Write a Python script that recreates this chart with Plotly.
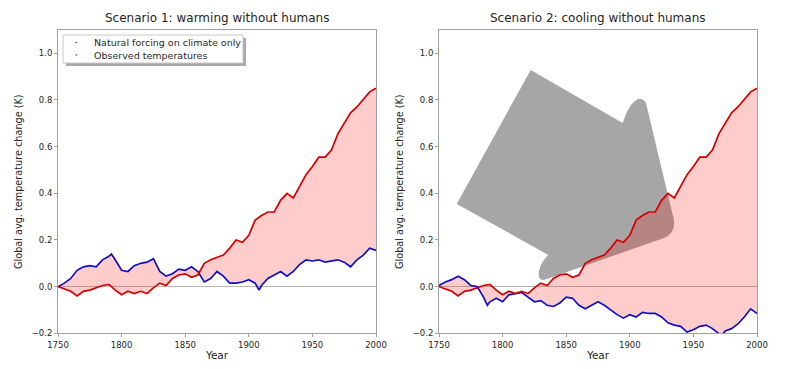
import plotly.graph_objects as go
from plotly.subplots import make_subplots

# ---------------- data ----------------
obs_years = [1750, 1755, 1760, 1765, 1770, 1775, 1780, 1785, 1790, 1795,
             1800, 1805, 1810, 1815, 1820, 1825, 1830, 1835, 1840, 1845,
             1850, 1855, 1860, 1865, 1870, 1875, 1880, 1885, 1890, 1895,
             1900, 1905, 1910, 1915, 1920, 1925, 1930, 1935, 1940, 1945,
             1950, 1955, 1960, 1965, 1970, 1975, 1980, 1985, 1990, 1995, 2000]
observed = [0.00, -0.01, -0.02, -0.04, -0.02, -0.015, -0.005, 0.005, 0.01, -0.015,
            -0.035, -0.02, -0.03, -0.02, -0.03, -0.005, 0.015, 0.005, 0.035, 0.05,
            0.055, 0.04, 0.05, 0.10, 0.115, 0.125, 0.135, 0.165, 0.20, 0.19,
            0.22, 0.285, 0.305, 0.32, 0.32, 0.37, 0.40, 0.38, 0.43, 0.48,
            0.515, 0.555, 0.555, 0.585, 0.655, 0.70, 0.745, 0.77, 0.805, 0.835, 0.85]

nat1_years = [1750, 1755, 1760, 1765, 1770, 1775, 1780, 1785, 1790, 1792, 1795,
              1800, 1805, 1810, 1815, 1820, 1825, 1830, 1835, 1840, 1845,
              1850, 1855, 1860, 1865, 1870, 1875, 1880, 1885, 1890, 1895,
              1900, 1905, 1908, 1910, 1915, 1920, 1925, 1930, 1935, 1940, 1945,
              1950, 1955, 1960, 1965, 1970, 1975, 1980, 1985, 1990, 1995, 2000]
natural_warming = [0.00, 0.015, 0.035, 0.07, 0.085, 0.09, 0.085, 0.115, 0.13, 0.14, 0.115,
                   0.07, 0.065, 0.09, 0.10, 0.105, 0.12, 0.065, 0.045, 0.055, 0.075,
                   0.07, 0.085, 0.065, 0.02, 0.035, 0.065, 0.045, 0.015, 0.015, 0.02,
                   0.03, 0.015, -0.015, 0.005, 0.035, 0.05, 0.065, 0.045, 0.065, 0.095, 0.115,
                   0.11, 0.115, 0.105, 0.11, 0.115, 0.105, 0.085, 0.115, 0.135, 0.165, 0.155]

nat2_years = [1750, 1755, 1760, 1765, 1770, 1775, 1780, 1785, 1788, 1790, 1795,
              1800, 1805, 1810, 1815, 1820, 1825, 1830, 1835, 1840, 1845,
              1850, 1855, 1860, 1865, 1870, 1875, 1880, 1885, 1890, 1895,
              1900, 1905, 1910, 1915, 1920, 1925, 1930, 1935, 1940, 1945,
              1950, 1955, 1960, 1965, 1970, 1972, 1975, 1980, 1985, 1990, 1995, 2000]
natural_cooling = [0.005, 0.02, 0.03, 0.045, 0.03, 0.005, 0.0, -0.045, -0.08, -0.065, -0.05,
                   -0.065, -0.035, -0.03, -0.025, -0.045, -0.065, -0.06, -0.08, -0.085, -0.07,
                   -0.045, -0.05, -0.08, -0.095, -0.08, -0.065, -0.08, -0.10, -0.12, -0.135,
                   -0.12, -0.13, -0.11, -0.115, -0.115, -0.13, -0.155, -0.165, -0.17, -0.195,
                   -0.185, -0.17, -0.165, -0.18, -0.20, -0.21, -0.19, -0.18, -0.16, -0.13, -0.095, -0.115]

titles = ["Scenario 1: warming without humans", "Scenario 2: cooling without humans"]
legend_names = ["Natural forcing on climate only", "Observed temperatures"]
x_ticks = [1750, 1800, 1850, 1900, 1950, 2000]
y_ticks = [-0.2, 0.0, 0.2, 0.4, 0.6, 0.8, 1.0]
y_tick_text = ["\u22120.2", "0.0", "0.2", "0.4", "0.6", "0.8", "1.0"]

# ---------------- style ----------------
RED = "#d40000"
BLUE = "#1010c0"
FILL = "rgba(255,0,0,0.2)"
FONT = "DejaVu Sans"
TXT = "#262626"
SPINE = "#a0a0a0"
OFF = 8                      # page body margin
W, H = 793 - 2 * OFF, 369 - 2 * OFF


def pxx(v):
    return (v - OFF) / W


def pxy(v):
    return 1 - (v - OFF) / H


fig = make_subplots(rows=1, cols=2)

panels = [(nat1_years, natural_warming), (nat2_years, natural_cooling)]
for i, (ny, nv) in enumerate(panels, start=1):
    fig.add_trace(go.Scatter(x=ny, y=nv, mode="lines", name=legend_names[0],
                             line=dict(color=BLUE, width=1.7),
                             showlegend=False, hoverinfo="skip"), row=1, col=i)
    fig.add_trace(go.Scatter(x=obs_years, y=observed, mode="lines", name=legend_names[1],
                             line=dict(color=RED, width=1.7),
                             fill="tonexty", fillcolor=FILL, showlegend=False, hoverinfo="skip"),
                  row=1, col=i)

left_dom = [pxx(58), pxx(376)]
right_dom = [pxx(439), pxx(757)]
y_dom = [pxy(333.3), pxy(30)]

axis_common = dict(showline=True, mirror=True, linecolor=SPINE, linewidth=1,
                   ticks="outside", ticklen=3, tickcolor=SPINE, showgrid=False,
                   automargin=False,
                   tickfont=dict(family=FONT, size=8.5, color=TXT))
for i, dom in enumerate([left_dom, right_dom], start=1):
    xa = "xaxis" if i == 1 else "xaxis2"
    ya = "yaxis" if i == 1 else "yaxis2"
    fig.layout[xa].update(domain=dom, range=[1750, 2000], tickvals=x_ticks,
                          title=dict(text="Year", font=dict(family=FONT, size=10.5, color=TXT),
                                     standoff=4),
                          zeroline=False, **axis_common)
    fig.layout[ya].update(domain=y_dom, range=[-0.2, 1.1], tickvals=y_ticks, ticktext=y_tick_text,
                          title=dict(text="Global avg. temperature change (K)",
                                     font=dict(family=FONT, size=9.7, color=TXT), standoff=7),
                          zeroline=True, zerolinecolor="#b8b8b8", zerolinewidth=1,
                          **axis_common)

# titles
for dom, t in zip([left_dom, right_dom], titles):
    fig.add_annotation(text=t, x=(dom[0] + dom[1]) / 2, y=pxy(18), xref="paper", yref="paper",
                       showarrow=False, xanchor="center", yanchor="middle",
                       font=dict(family=FONT, size=12, color=TXT))


# big grey arrow on the second panel (decoration), defined in screen pixels, mapped to axis units
def px2data(px, py):
    year = 1750 + (px - 439) * 250 / (757 - 439)
    t = (286.7 - py) / 233.3
    return f"{year:.3f},{t:.4f}"


arrow_px = [
    ("M", [(456.7, 204)]),
    ("L", [(530.7, 70)]),
    ("L", [(622.7, 123)]),
    ("Q", [(628, 106), (635, 101)]),
    ("Q", [(641, 96), (646, 103)]),
    ("L", [(672, 212)]),
    ("Q", [(679, 232), (664, 238)]),
    ("L", [(547, 279)]),
    ("Q", [(537, 283), (539, 271)]),
    ("Q", [(541, 262), (548.3, 255)]),
]
path = " ".join(cmd + " " + " ".join(px2data(*p) for p in pts) for cmd, pts in arrow_px) + " Z"
fig.add_shape(type="path", path=path, xref="x2", yref="y2", layer="below",
              fillcolor="#a6a6a6", line=dict(width=0))

# legend box (matplotlib style, with shadow) drawn with shapes + text
lx0, ly0, lx1, ly1 = 63, 35, 243, 63
fig.add_shape(type="rect", xref="paper", yref="paper",
              x0=pxx(lx0 + 3), x1=pxx(lx1 + 3), y0=pxy(ly1 + 3), y1=pxy(ly0 + 3),
              fillcolor="rgba(110,110,110,0.6)", line=dict(width=0))
fig.add_shape(type="rect", xref="paper", yref="paper",
              x0=pxx(lx0), x1=pxx(lx1), y0=pxy(ly1), y1=pxy(ly0),
              fillcolor="white", line=dict(color="#c8c8c8", width=1))
for k, (name, col) in enumerate(zip(legend_names, [BLUE, RED])):
    yy = 42.5 + 12.5 * k
    fig.add_shape(type="circle", xref="paper", yref="paper",
                  x0=pxx(75.5), x1=pxx(77), y0=pxy(yy + 0.8), y1=pxy(yy - 0.8),
                  fillcolor=col, line=dict(width=0))
    fig.add_annotation(text=name, x=pxx(92), y=pxy(yy), xref="paper", yref="paper",
                       showarrow=False, xanchor="left", yanchor="middle",
                       font=dict(family=FONT, size=9.5, color=TXT))

fig.update_layout(
    width=W, height=H, margin=dict(l=0, r=0, t=0, b=0),
    paper_bgcolor="white", plot_bgcolor="white",
    font=dict(family=FONT, color=TXT),
    showlegend=False,
)

fig.write_html("out.html")
